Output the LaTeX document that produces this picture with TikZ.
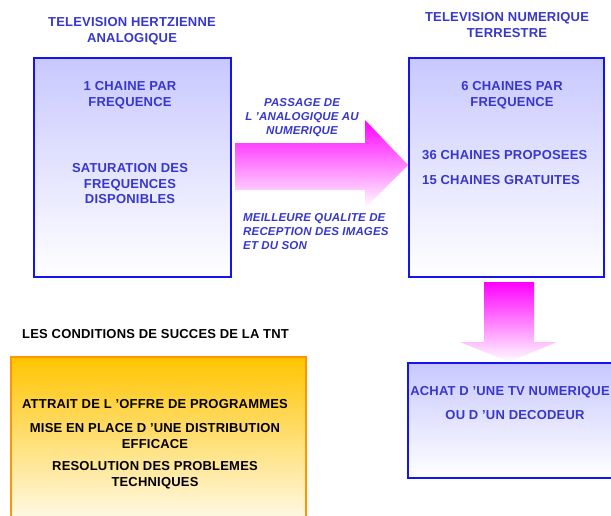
\documentclass[tikz,border=0pt]{standalone}
\usepackage{fontspec}
\setmainfont[LetterSpace=1.5]{Liberation Sans}
\definecolor{boxblue}{RGB}{20,20,240}
\definecolor{boxtop}{RGB}{200,200,255}
\definecolor{txtblue}{RGB}{55,55,205}
\definecolor{orborder}{RGB}{255,150,0}
\definecolor{ortop}{RGB}{255,196,0}
\begin{document}
\begin{tikzpicture}[x=1pt,y=-1pt,
  bluebox/.style={draw=boxblue, line width=2pt, top color=boxtop, bottom color=white, anchor=north west, inner sep=0},
  orbox/.style={draw=orborder, line width=1.5pt, top color=ortop, bottom color=white, anchor=north west, inner sep=0},
  bt/.style={font=\bfseries\fontsize{13}{15.5}\selectfont, text=txtblue, align=center, inner sep=0},
  it/.style={font=\bfseries\itshape\fontsize{11.5}{14}\selectfont, text=txtblue, inner sep=0},
  kt/.style={font=\bfseries\fontsize{13}{15.5}\selectfont, text=black, align=center, inner sep=0},
  blockarrow/.style={top color=magenta, bottom color=white, draw=none}]
\useasboundingbox (0,0) rectangle (611,515);
% boxes
\node[bluebox, minimum width=197pt, minimum height=219pt] (L) at (33,57) {};
\node[bluebox, minimum width=195pt, minimum height=219pt] (R) at (408,57) {};
\node[bluebox, minimum width=216pt, minimum height=115pt] (A) at (407,362) {};
\node[orbox, minimum width=295pt, minimum height=180pt] (C) at (10,356) {};
% block arrows
\shade[blockarrow] (235,143) -- (365,143) -- (365,120) -- (R.west |- 0,165) -- (365,208) -- (365,190) -- (235,190) -- cycle;
\shade[blockarrow] (484,282) -- (534,282) -- (534,342) -- (557,342) -- (A.north -| 509,0) -- (460,342) -- (484,342) -- cycle;
% titles
\node[bt] (t1) at (132,31) {TELEVISION HERTZIENNE\\ANALOGIQUE};
\node[bt] (t2) at (507,25) {TELEVISION NUMERIQUE\\TERRESTRE};
% left box texts
\node[bt] (l1) at (130,95) {1 CHAINE PAR\\FREQUENCE};
\node[bt] (l2) at (130,184) {SATURATION DES\\FREQUENCES\\DISPONIBLES};
% right box texts
\node[bt] (r1) at (512,95) {6 CHAINES PAR\\FREQUENCE};
\node[bt, anchor=west] (r2) at (422,155) {36 CHAINES PROPOSEES};
\node[bt, anchor=west] (r3) at (422,180) {15 CHAINES GRATUITES};
% arrow texts
\node[it, align=center] (a1) at (302,118) {PASSAGE DE\\L 'ANALOGIQUE AU\\NUMERIQUE};
\node[it, align=left, anchor=west] (a2) at (243,232) {MEILLEURE QUALITE DE\\RECEPTION DES IMAGES\\ET DU SON};
% bottom right texts
\node[bt] (b1) at (510,392) {ACHAT D 'UNE TV NUMERIQUE};
\node[bt] (b2) at (515,415) {OU D 'UN DECODEUR};
% conditions
\node[kt, anchor=west] (c0) at (22,334) {LES CONDITIONS DE SUCCES DE LA TNT};
\node[kt] (c1) at (155,404) {ATTRAIT DE L 'OFFRE DE PROGRAMMES};
\node[kt] (c2) at (155,436) {MISE EN PLACE D 'UNE DISTRIBUTION\\EFFICACE};
\node[kt] (c3) at (155,475) {RESOLUTION DES PROBLEMES\\TECHNIQUES};
\end{tikzpicture}
\end{document}
